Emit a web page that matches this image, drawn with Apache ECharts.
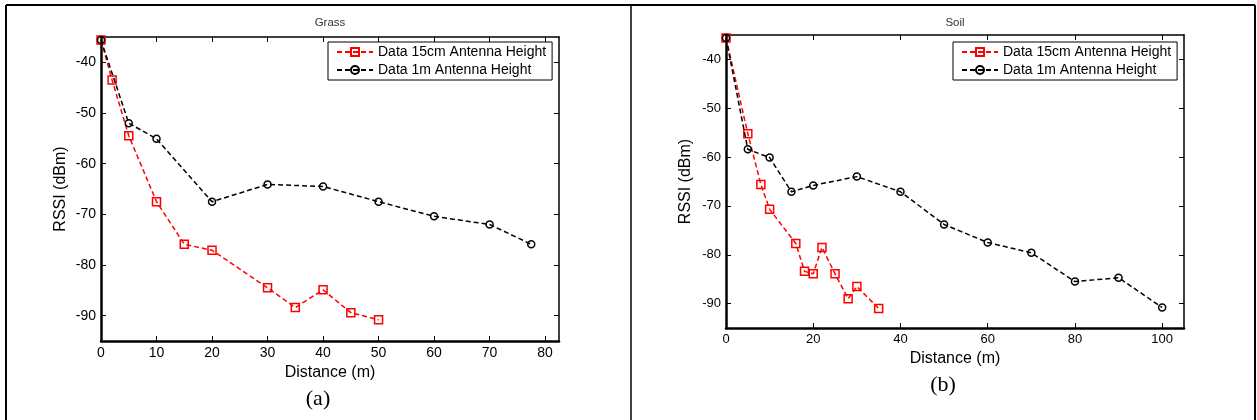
<!DOCTYPE html>
<html>
<head>
<meta charset="utf-8">
<script src="https://cdn.jsdelivr.net/npm/echarts@6/dist/echarts.min.js"></script>
<style>
html,body{margin:0;padding:0;background:#fff;}
#chart{width:1257px;height:420px;}
</style>
</head>
<body>
<div id="chart"></div>
<script>
// ---- data ----
const seriesNames = ['Data 15cm Antenna Height', 'Data 1m Antenna Height'];
const panelTitles = ['Grass', 'Soil'];
const panelCaptions = ['(a)', '(b)'];

const grassDist15 = [0, 2, 5, 10, 15, 20, 30, 35, 40, 45, 50];
const grassRssi15 = [-35.6, -43.5, -54.5, -67.5, -75.9, -77.1, -84.5, -88.4, -84.9, -89.4, -90.8];
const grassDist1m = [0, 5, 10, 20, 30, 40, 50, 60, 70, 77.5];
const grassRssi1m = [-35.6, -52, -55.1, -67.5, -64.1, -64.5, -67.5, -70.4, -72, -75.9];

const soilDist15 = [0, 5, 8, 10, 16, 18, 20, 22, 25, 28, 30, 35];
const soilRssi15 = [-35.6, -55.2, -65.6, -70.7, -77.7, -83.4, -83.9, -78.5, -83.9, -89, -86.5, -91];
const soilDist1m = [0, 5, 10, 15, 20, 30, 40, 50, 60, 70, 80, 90, 100];
const soilRssi1m = [-35.6, -58.4, -60.1, -67.1, -65.8, -64, -67.1, -73.8, -77.5, -79.6, -85.5, -84.7, -90.8];

const rssiTicks = [-90, -80, -70, -60, -50, -40];
const grassDistTicks = [0, 10, 20, 30, 40, 50, 60, 70, 80];
const soilDistTicks = [0, 20, 40, 60, 80, 100];

const xAxisLabel = 'Distance (m)';
const yAxisLabel = 'RSSI (dBm)';

// ---- build chart ----
const FONT = 'Liberation Sans, Arial, Helvetica, sans-serif';
const zip = (xs, ys) => xs.map((x, i) => [x, ys[i]]);

const grids = [
  { left: 101, top: 37, width: 458, height: 304 },
  { left: 726, top: 35, width: 458, height: 293 }
];
const xRanges = [[0, 82.5], [0, 105]];
const yRange = [-95, -35];
const xTicks = [grassDistTicks, soilDistTicks];
const tickFont = [14, 13];

const xAxes = [], yAxes = [];
for (let g = 0; g < 2; g++) {
  const baseX = {
    type: 'value', gridIndex: g, min: xRanges[g][0], max: xRanges[g][1],
    splitLine: { show: false }
  };
  xAxes.push(Object.assign({}, baseX, {
    position: 'bottom',
    name: xAxisLabel, nameLocation: 'middle', nameGap: 19,
    nameTextStyle: { fontFamily: FONT, fontSize: 16, color: '#000' },
    axisLine: { onZero: false, lineStyle: { color: '#000', width: 2.5 } },
    axisTick: { inside: true, length: 5, customValues: xTicks[g], lineStyle: { color: '#000', width: 1 } },
    axisLabel: { margin: 5, customValues: xTicks[g], fontFamily: FONT, fontSize: tickFont[g], color: '#000' }
  }));
  xAxes.push(Object.assign({}, baseX, {
    position: 'top',
    axisLine: { onZero: false, lineStyle: { color: '#000', width: 1.5 } },
    axisTick: { inside: true, length: 5, customValues: xTicks[g], lineStyle: { color: '#000', width: 1 } },
    axisLabel: { show: false }
  }));
  const baseY = {
    type: 'value', gridIndex: g, min: yRange[0], max: yRange[1],
    splitLine: { show: false }
  };
  yAxes.push(Object.assign({}, baseY, {
    position: 'left',
    name: yAxisLabel, nameLocation: 'middle', nameGap: 32,
    nameTextStyle: { fontFamily: FONT, fontSize: 16, color: '#000' },
    axisLine: { onZero: false, lineStyle: { color: '#000', width: 2.5 } },
    axisTick: { inside: true, length: 5, customValues: rssiTicks, lineStyle: { color: '#000', width: 1 } },
    axisLabel: { margin: 5, customValues: rssiTicks, fontFamily: FONT, fontSize: tickFont[g], color: '#000' }
  }));
  yAxes.push(Object.assign({}, baseY, {
    position: 'right',
    axisLine: { onZero: false, lineStyle: { color: '#000', width: 1.5 } },
    axisTick: { inside: true, length: 5, customValues: rssiTicks, lineStyle: { color: '#000', width: 1 } },
    axisLabel: { show: false }
  }));
}

function redSeries(g, data) {
  return {
    name: seriesNames[0], type: 'line', xAxisIndex: g * 2, yAxisIndex: g * 2,
    data: data, symbol: 'rect', symbolSize: 8, showAllSymbol: true,
    lineStyle: { color: '#ff0000', width: 1.5, type: [5, 3] },
    itemStyle: { color: 'rgba(255,255,255,0)', borderColor: '#ff0000', borderWidth: 1.5 },
    emphasis: { disabled: true }, animation: false, z: 2
  };
}
function blackSeries(g, data) {
  return {
    name: seriesNames[1], type: 'line', xAxisIndex: g * 2, yAxisIndex: g * 2,
    data: data, symbol: 'circle', symbolSize: 7, showAllSymbol: true,
    lineStyle: { color: '#000', width: 1.5, type: [5, 3] },
    itemStyle: { color: 'rgba(255,255,255,0)', borderColor: '#000', borderWidth: 1.5 },
    emphasis: { disabled: true }, animation: false, z: 3
  };
}

const legendPos = [{ left: 328, top: 42 }, { left: 953, top: 42 }];
const legends = legendPos.map(p => ({
  left: p.left, top: p.top, orient: 'vertical',
  data: seriesNames, itemWidth: 36, itemHeight: 10, itemGap: 4,
  padding: [3, 6, 3, 8], borderColor: '#000', borderWidth: 1, backgroundColor: '#fff',
  textStyle: { fontFamily: FONT, fontSize: 14, color: '#000', padding: [0, 0, 0, 0] },
  selectedMode: false
}));

const titles = [
  { text: panelTitles[0], left: 330, top: 17, textAlign: 'center' },
  { text: panelTitles[1], left: 955, top: 17, textAlign: 'center' }
].map(t => Object.assign(t, { textStyle: { fontFamily: FONT, fontSize: 11.5, fontWeight: 'normal', color: '#333' }, padding: 0 }));

const frame = { stroke: '#000', lineWidth: 2 };
const option = {
  animation: false,
  backgroundColor: '#fff',
  title: titles,
  legend: legends,
  grid: grids,
  xAxis: xAxes,
  yAxis: yAxes,
  series: [
    redSeries(0, zip(grassDist15, grassRssi15)),
    blackSeries(0, zip(grassDist1m, grassRssi1m)),
    redSeries(1, zip(soilDist15, soilRssi15)),
    blackSeries(1, zip(soilDist1m, soilRssi1m))
  ],
  graphic: [
    { type: 'line', shape: { x1: 6, y1: 5, x2: 1255, y2: 5 }, style: frame, silent: true },
    { type: 'line', shape: { x1: 6, y1: 5, x2: 6, y2: 420 }, style: frame, silent: true },
    { type: 'line', shape: { x1: 631, y1: 5, x2: 631, y2: 420 }, style: { stroke: '#000', lineWidth: 1.5 }, silent: true },
    { type: 'line', shape: { x1: 1255, y1: 5, x2: 1255, y2: 420 }, style: frame, silent: true },
    { type: 'text', x: 318, y: 399, style: { text: panelCaptions[0], font: '22px "Liberation Serif", "Times New Roman", serif', fill: '#000', textAlign: 'center', textVerticalAlign: 'middle' } },
    { type: 'text', x: 943, y: 385, style: { text: panelCaptions[1], font: '22px "Liberation Serif", "Times New Roman", serif', fill: '#000', textAlign: 'center', textVerticalAlign: 'middle' } }
  ]
};

const chart = echarts.init(document.getElementById('chart'), null, { renderer: 'canvas' });
chart.setOption(option);
</script>
</body>
</html>
